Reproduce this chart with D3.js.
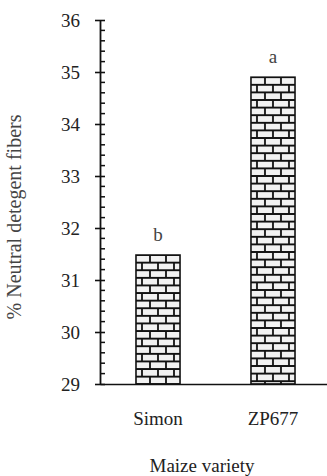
<!DOCTYPE html>
<html>
<head>
<meta charset="utf-8">
<script src="https://cdn.jsdelivr.net/npm/d3@7"></script>
<style>
  body { margin: 0; background: #fff; }
  svg text { font-family: "Liberation Serif", "Times New Roman", serif; fill: #222; }
</style>
</head>
<body>
<svg id="chart"></svg>
<script>
// data
var varieties = ["Simon", "ZP677"];
var ndf = [31.48, 34.9];
var groups = ["b", "a"];
var yTicks = [29, 30, 31, 32, 33, 34, 35, 36];

var width = 327, height = 476;
var serif = '"Liberation Serif", "Times New Roman", serif';
var svg = d3.select("#chart").attr("width", width).attr("height", height);

var x = d3.scaleBand().domain(varieties).range([100, 331])
    .paddingInner(0.617).paddingOuter(0.313);
var y = d3.scaleLinear().domain([29, 36]).range([384, 20]);

// brick pattern, one per bar so the joints start at the bar edge
var bw = 16, bh = 7.6;
var defs = svg.append("defs");
varieties.forEach(function(v, i) {
  var p = defs.append("pattern")
    .attr("id", "brick" + i)
    .attr("patternUnits", "userSpaceOnUse")
    .attr("x", x(v) - 4).attr("y", y(ndf[i]))
    .attr("width", bw).attr("height", bh * 2);
  p.append("rect").attr("width", bw).attr("height", bh * 2).attr("fill", "#f2f2f2");
  p.append("path")
    .attr("d", "M0,0H" + bw + "M0," + bh + "H" + bw + "M0," + (bh * 2) + "H" + bw +
               "M2,0V" + bh + "M" + (2 + bw / 2) + "," + bh + "V" + (bh * 2))
    .attr("stroke", "#111").attr("stroke-width", 1.8).attr("fill", "none");
});

svg.selectAll(".bar")
  .data(varieties)
  .enter().append("rect")
  .attr("class", "bar")
  .attr("x", function(d) { return x(d); })
  .attr("y", function(d, i) { return y(ndf[i]); })
  .attr("width", x.bandwidth())
  .attr("height", function(d, i) { return y(29) - y(ndf[i]); })
  .attr("fill", function(d, i) { return "url(#brick" + i + ")"; })
  .attr("stroke", "#111")
  .attr("stroke-width", 1.6);

// significance letters
svg.selectAll(".grp")
  .data(varieties)
  .enter().append("text")
  .attr("class", "grp")
  .attr("x", function(d) { return x(d) + x.bandwidth() / 2; })
  .attr("y", function(d, i) { return y(ndf[i]) - 14; })
  .attr("text-anchor", "middle")
  .attr("font-family", serif)
  .style("font-size", "19px")
  .style("fill", "#444")
  .text(function(d, i) { return groups[i]; });

// y axis
var yAxis = svg.append("g")
  .attr("transform", "translate(100,0)")
  .call(d3.axisLeft(y).tickValues(yTicks).tickFormat(d3.format("d"))
    .tickSize(5).tickPadding(15).tickSizeOuter(0))
  .attr("font-family", serif)
  .attr("font-size", 19);
yAxis.select(".domain").attr("stroke", "#111").attr("stroke-width", 1.8);
yAxis.selectAll(".tick line").attr("stroke", "#111").attr("stroke-width", 1.6).attr("x2", 5).attr("x1", -5);
yAxis.selectAll(".tick text").attr("fill", "#222");

// minor ticks every 0.2
var minor = d3.range(29, 36.001, 0.2).filter(function(v) {
  return Math.abs(v - Math.round(v)) > 0.01;
});
svg.append("g").selectAll("line")
  .data(minor)
  .enter().append("line")
  .attr("x1", 100).attr("x2", 105)
  .attr("y1", function(d) { return y(d); })
  .attr("y2", function(d) { return y(d); })
  .attr("stroke", "#111").attr("stroke-width", 1.5);

// x axis
var xAxis = svg.append("g")
  .attr("transform", "translate(0,384)")
  .call(d3.axisBottom(x).tickSize(0).tickPadding(28))
  .attr("font-family", serif)
  .attr("font-size", 19);
xAxis.select(".domain").attr("stroke", "#111").attr("stroke-width", 1.5);
xAxis.selectAll(".tick text").attr("fill", "#222");

// axis titles
svg.append("text")
  .attr("x", 202).attr("y", 472)
  .attr("text-anchor", "middle")
  .attr("font-family", serif)
  .style("font-size", "19px")
  .text("Maize variety");

svg.append("text")
  .attr("transform", "translate(21,217) rotate(-90)")
  .attr("text-anchor", "middle")
  .attr("font-family", serif)
  .style("font-size", "20px")
  .style("fill", "#444")
  .text("% Neutral detegent fibers");
</script>
</body>
</html>
